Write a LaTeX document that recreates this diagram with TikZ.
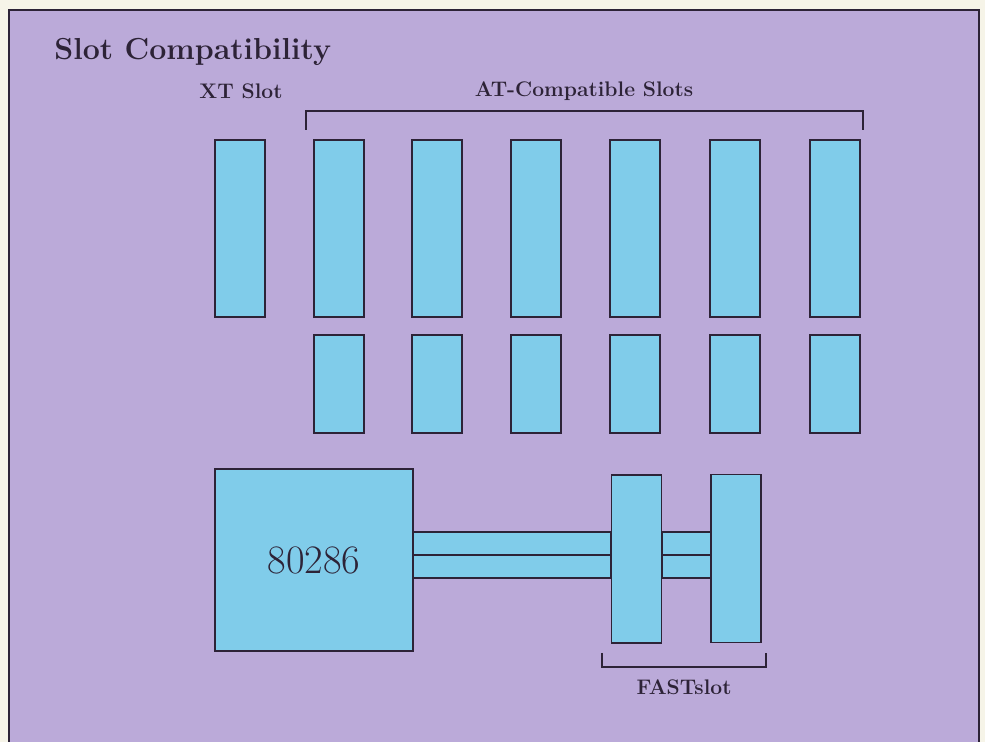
\documentclass[tikz,border=0pt]{standalone}
\usetikzlibrary{positioning}

\definecolor{paper}{RGB}{246,244,232}
\definecolor{lavender}{RGB}{187,170,217}
\definecolor{slotblue}{RGB}{128,204,234}
\definecolor{ink}{RGB}{45,35,55}

\tikzset{
    slot/.style={draw=ink, line width=0.8pt, fill=slotblue, minimum width=1cm, inner sep=0pt},
    tall/.style={slot, minimum height=3.54cm},
    short/.style={slot, minimum height=1.96cm},
    heading/.style={font=\bfseries\large, text=ink, inner sep=0pt},
    brace/.style={draw=ink, line width=0.7pt}
}

\begin{document}
\begin{tikzpicture}[x=0.02cm, y=-0.02cm]
    % page and panel
    \useasboundingbox[fill=paper] (0, 0) rectangle (985, 742);
    \begin{scope}
        \clip (0, 0) rectangle (985, 742);
        \draw[ink, line width=1.2pt, fill=lavender] (9, 10) rectangle (979, 770);
    \end{scope}
    % titles
    \node[heading, font=\bfseries\LARGE, anchor=base west] (title) at (54, 60) {Slot Compatibility};
    \node[heading, anchor=base] (xtlabel) at (241, 99) {XT Slot};
    \node[heading, anchor=base] (atlabel) at (584, 97) {AT-Compatible Slots};
    % slots
    \node[tall] (xt) at (240, 228.5) {};
    \foreach \i/\x in {1/339, 2/437, 3/536, 4/635, 5/735, 6/835} {
        \node[tall] (at\i) at (\x, 228.5) {};
        \node[short] (lo\i) at (\x, 384) {};
    }
    % bracket over AT slots
    \coordinate (bl) at (306, 130);
    \coordinate (br) at (863, 130);
    \draw[brace] (bl) -- ++(0, -19) -| (br);
    % processor
    \node[slot, minimum width=3.96cm, minimum height=3.64cm, font=\fontsize{23}{27}\selectfont, text=ink] (cpu) at (314, 560) {80286};
    % bus lines
    \draw[slot] (cpu.east |- 0, 532) rectangle (611, 555);
    \draw[slot] (cpu.east |- 0, 555) rectangle (611, 578);
    \draw[slot] (662, 532) rectangle (712, 555);
    \draw[slot] (662, 555) rectangle (712, 578);
    % fast slots
    \node[slot, minimum height=3.36cm] (fs1) at (636.5, 559) {};
    \node[slot, minimum height=3.36cm] (fs2) at (736, 558.5) {};
    % bracket under fast slots
    \coordinate (fl) at (602, 653);
    \coordinate (fr) at (766, 653);
    \draw[brace] (fl) -- ++(0, 14) -| (fr);
    \node[heading, anchor=base] (fastlabel) at (684, 695) {FASTslot};
\end{tikzpicture}
\end{document}
